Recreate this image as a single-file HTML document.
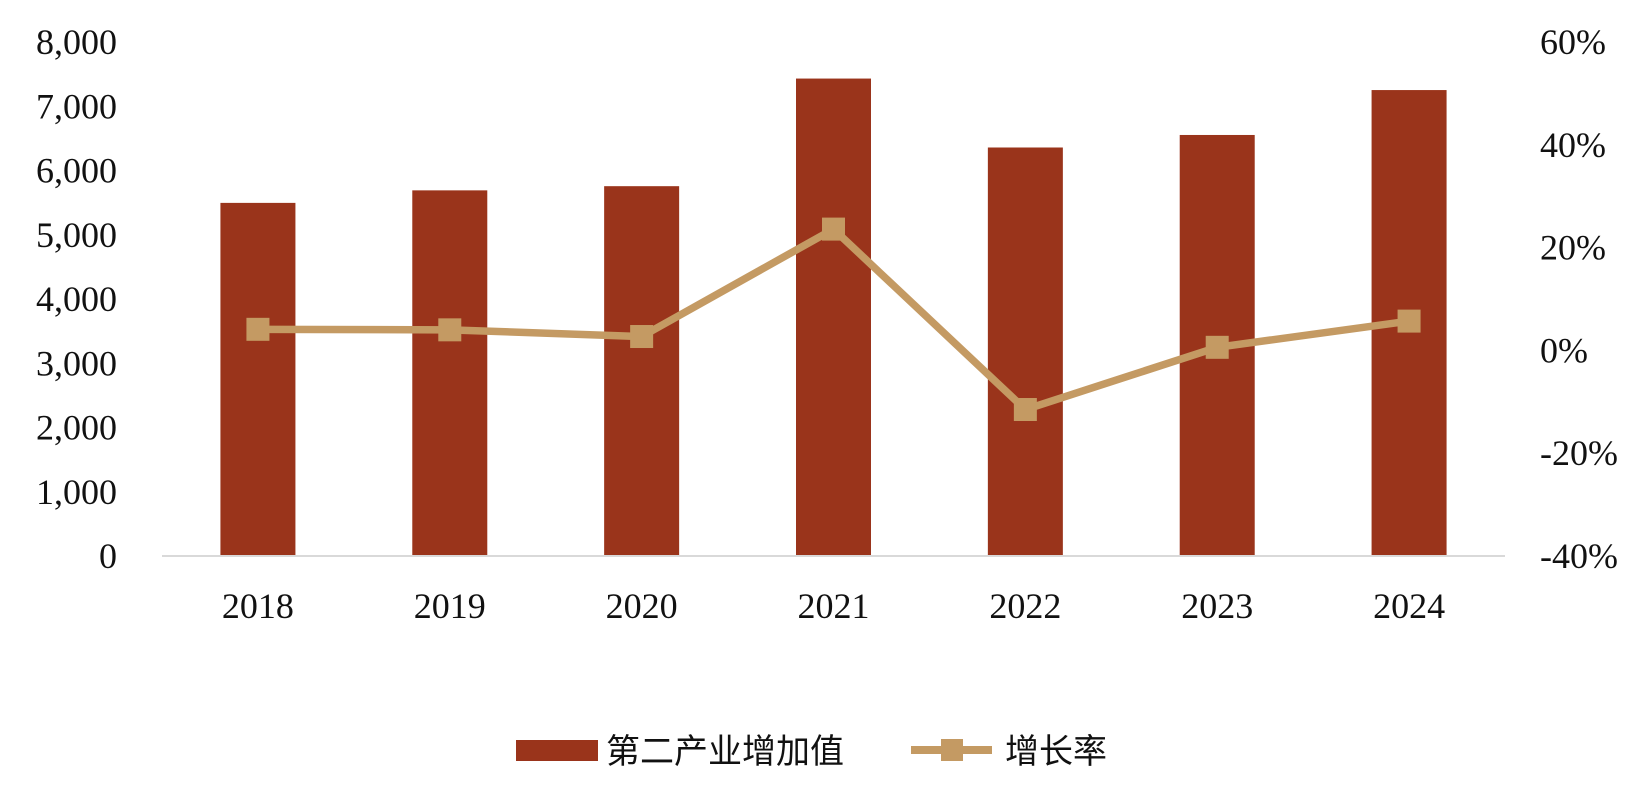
<!DOCTYPE html>
<html><head><meta charset="utf-8"><style>
body{margin:0;background:#fff;}
svg text{font-family:"Liberation Serif","Noto Serif CJK SC",serif;fill:#111;}
</style></head><body>
<svg id="chart" width="1638" height="794" xmlns="http://www.w3.org/2000/svg">
<g id="bars"></g><g id="line"></g><g id="axes"></g>
<g>
<rect x="516" y="740" width="82" height="21" fill="#9a341b"/>
<text x="606" y="763" font-size="34" style="font-family:'Noto Sans CJK SC',sans-serif">第二产业增加值</text>
<line x1="911" y1="750" x2="992" y2="750" stroke="#c49a63" stroke-width="8"/>
<rect x="941" y="739" width="22" height="22" fill="#c49a63"/>
<text x="1005" y="763" font-size="34" style="font-family:'Noto Sans CJK SC',sans-serif">增长率</text>
</g>
</svg>
<script>
const categories=["2018","2019","2020","2021","2022","2023","2024"];
const values=[5496,5691,5756,7431,6358,6553,7252];
const growth=[4.1,4.0,2.7,23.6,-11.5,0.6,5.7];
const leftTicks=[0,1000,2000,3000,4000,5000,6000,7000,8000];
const rightTicks=[-40,-20,0,20,40,60];
const NS="http://www.w3.org/2000/svg";
const x0=162,x1=1505,yB=556,yT=42;
const band=(x1-x0)/categories.length;
const xc=i=>x0+band*(i+0.5);
const yL=v=>yB-(v/8000)*(yB-yT);
const yR=v=>yB-((v+40)/100)*(yB-yT);
function mk(tag,attrs,parent){const e=document.createElementNS(NS,tag);for(const k in attrs)e.setAttribute(k,attrs[k]);parent.appendChild(e);return e;}
const bars=document.getElementById('bars'),line=document.getElementById('line'),axes=document.getElementById('axes');
values.forEach((v,i)=>{const r=mk('rect',{x:xc(i)-37.5,y:yL(v),width:75,height:yB-yL(v),fill:'#9a341b'},bars);

});
const bl=mk('line',{x1:x0,y1:yB,x2:x1,y2:yB,stroke:'#d9d9d9','stroke-width':2},axes);


const pl=mk('polyline',{points:growth.map((g,i)=>xc(i)+','+yR(g)).join(' '),fill:'none',stroke:'#c49a63','stroke-width':7.5,'stroke-linejoin':'round'},line);


growth.forEach((g,i)=>{const m=mk('rect',{x:xc(i)-11.5,y:yR(g)-11.5,width:23,height:23,fill:'#c49a63'},line);

});
categories.forEach((c,i)=>{const t=mk('text',{x:xc(i),y:618,'font-size':36,'text-anchor':'middle'},axes);t.textContent=c;

});
leftTicks.forEach(v=>{const t=mk('text',{x:117,y:yL(v)+12,'font-size':36,'text-anchor':'end'},axes);t.textContent=v.toLocaleString('en-US');

});
rightTicks.forEach(v=>{const t=mk('text',{x:1540,y:yR(v)+12,'font-size':36},axes);t.textContent=v+'%';

});
</script>
</body></html>
